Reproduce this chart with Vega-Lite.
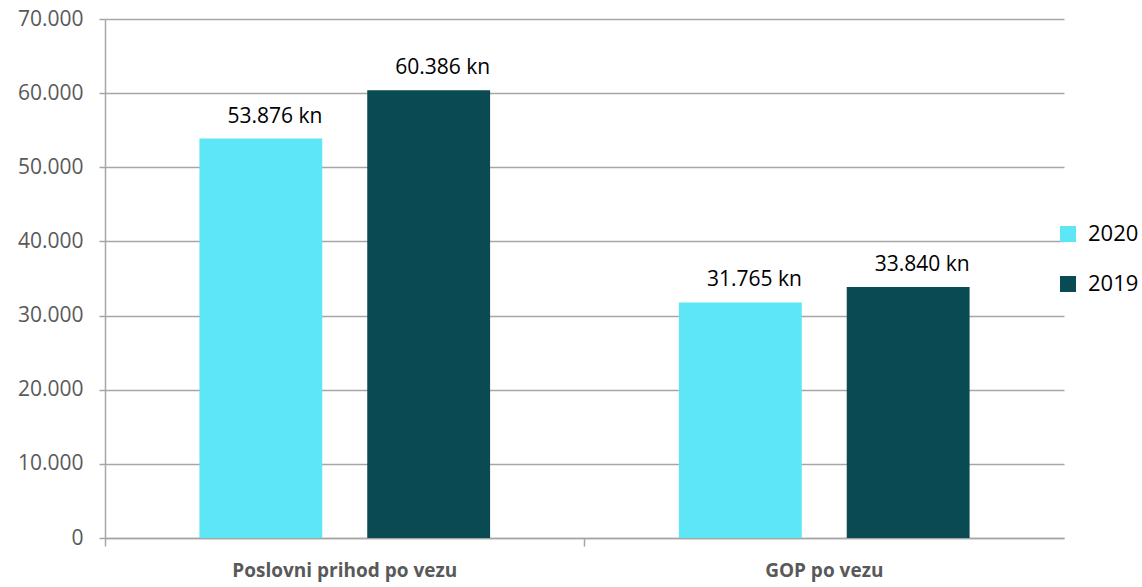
{
  "$schema": "https://vega.github.io/schema/vega-lite/v6.json",
  "autosize": {"type": "none"},
  "padding": {"left": 105, "top": 19, "right": 78, "bottom": 49},
  "width": 959,
  "height": 519,
  "data": {
    "values": [
      {"category": "Poslovni prihod po vezu", "year": "2020", "value": 53876},
      {"category": "Poslovni prihod po vezu", "year": "2019", "value": 60386},
      {"category": "GOP po vezu", "year": "2020", "value": 31765},
      {"category": "GOP po vezu", "year": "2019", "value": 33840}
    ]
  },
  "encoding": {
    "x": {
      "field": "category", "type": "nominal", "sort": null,
      "scale": {"paddingInner": 0, "paddingOuter": 0},
      "axis": {
        "title": null, "labelAngle": 0, "bandPosition": 0, "labelLimit": 0,
        "labelFont": "Open Sans", "labelFontSize": 19, "labelFontWeight": "bold",
        "labelColor": "#595959", "labelPadding": 15,
        "domainColor": "#A6A6A6", "domainWidth": 1.5,
        "tickColor": "#A6A6A6", "tickWidth": 1.5, "tickSize": 8
      }
    },
    "xOffset": {
      "field": "year", "type": "nominal", "sort": ["2020", "2019"],
      "scale": {"paddingInner": 0.268, "paddingOuter": 0.5625}
    },
    "y": {
      "field": "value", "type": "quantitative",
      "scale": {"domain": [0, 70000], "nice": false},
      "axis": {
        "title": null, "values": [0, 10000, 20000, 30000, 40000, 50000, 60000, 70000],
        "format": ",d",
        "labelFont": "Open Sans", "labelFontSize": 21, "labelColor": "#595959",
        "labelPadding": 16, "tickSize": 6, "tickColor": "#A6A6A6", "tickWidth": 1.5,
        "domainColor": "#A6A6A6", "domainWidth": 1.5,
        "grid": true, "gridColor": "#A6A6A6", "gridWidth": 1.5
      }
    }
  },
  "layer": [
    {
      "mark": {"type": "bar"},
      "encoding": {
        "color": {
          "field": "year", "type": "nominal",
          "scale": {"domain": ["2020", "2019"], "range": ["#5CE6F6", "#0A4A52"]},
          "legend": {
            "title": null, "orient": "none", "legendX": 952, "legendY": 204,
            "symbolType": "square", "symbolSize": 256, "symbolStrokeWidth": 0,
            "labelFont": "Open Sans", "labelFontSize": 22, "labelColor": "#000000",
            "labelOffset": 9, "rowPadding": 28
          }
        }
      }
    },
    {
      "mark": {"type": "text", "baseline": "alphabetic", "dy": -16, "dx": 14,
               "font": "Open Sans", "fontSize": 21, "color": "#000000"},
      "encoding": {
        "text": {"field": "value", "type": "quantitative", "format": "$,d"}
      }
    }
  ],
  "config": {
    "locale": {
      "number": {"decimal": ",", "thousands": ".", "grouping": [3], "currency": ["", " kn"]}
    },
    "view": {"stroke": null}
  }
}
